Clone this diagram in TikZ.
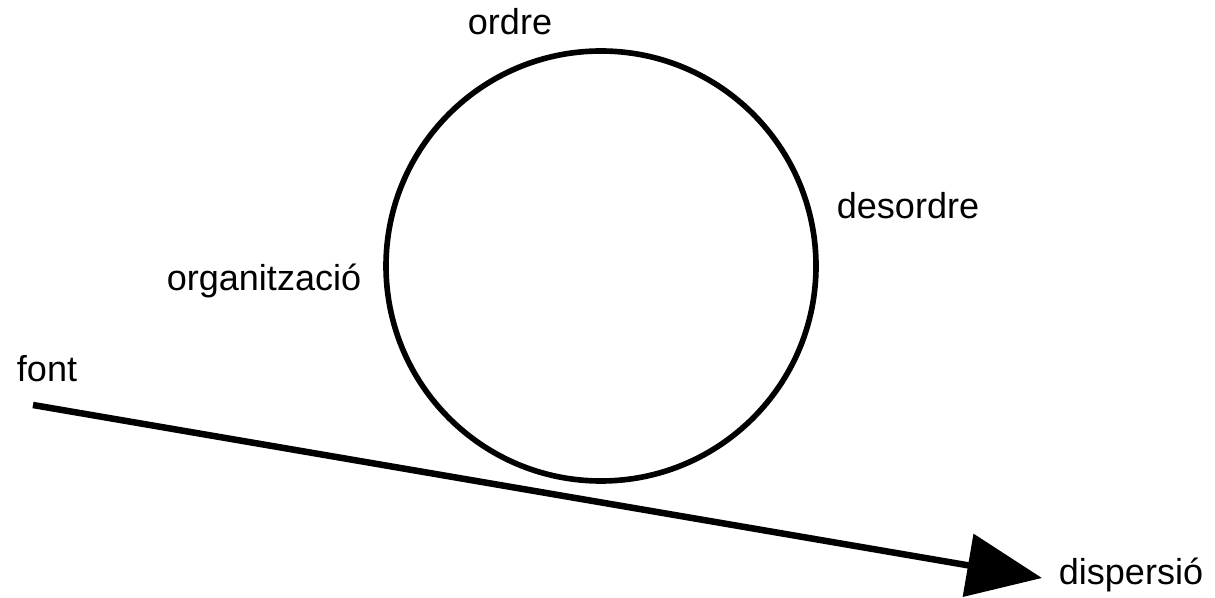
\documentclass[tikz,border=0pt]{standalone}
\usepackage{fontspec}
\setmainfont{Liberation Sans}
\usetikzlibrary{arrows.meta,positioning}

\begin{document}
\begin{tikzpicture}[>=Triangle, every node/.style={font=\fontsize{20.5}{24}\selectfont}, lbl/.style={anchor=base}]
\path[use as bounding box] (0,0) rectangle (24.3,-11.96);
\node[draw, circle, line width=3.2pt, minimum size=8.6cm, inner sep=0pt] (cyc) at (12.02,-5.32) {};
\node[lbl] (ordre) at (10.2,-0.70) {ordre};
\node[lbl] (desordre) at (18.16,-4.38) {desordre};
\node[lbl] (org) at (5.28,-5.82) {organització};
\node[lbl] (font) at (0.94,-7.64) {font};
\node[lbl] (disp) at (22.62,-11.7) {dispersió};
\coordinate (src) at (0.66,-8.1);
\coordinate (dst) at (20.84,-11.56);
\draw[-{Triangle[length=1.5cm, width=1.25cm]}, line width=3.7pt] (src) -- (dst);
\end{tikzpicture}
\end{document}
